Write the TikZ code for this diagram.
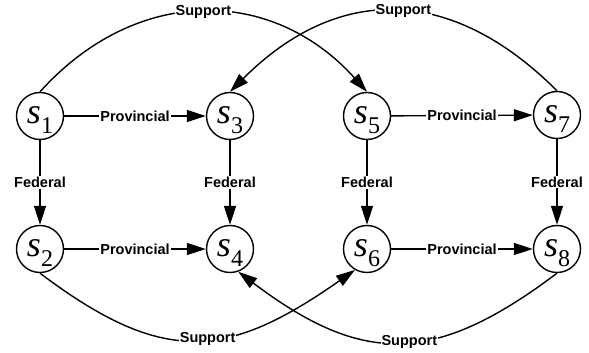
\documentclass[tikz,border=0pt]{standalone}
\usepackage{fontspec}
\setmainfont{Liberation Sans}
\newfontface\stateit{Liberation Serif Italic}
\newfontface\stateup{Liberation Serif}
\usetikzlibrary{arrows.meta}

\newcommand{\stlabel}[1]{{\fontsize{36pt}{36pt}\stateit s\raisebox{-10pt}{\fontsize{24pt}{24pt}\stateup #1}}}

\begin{document}
\begin{tikzpicture}[x=1pt,y=1pt,
		stnode/.style={draw,circle,line width=1.4pt,minimum size=47pt,inner sep=0pt,text height=26pt,text depth=10pt},
		arr/.style={-{Triangle[length=19pt,width=12pt]},line width=1.4pt},
		lbl/.style={fill=white,inner sep=1pt,font=\fontsize{14.5pt}{15pt}\selectfont\bfseries}]
	\useasboundingbox (0,0) rectangle (589,353);
	
	\node[stnode] (s1) at (40,237) {\stlabel{1}};
	\node[stnode] (s3) at (230,237) {\stlabel{3}};
	\node[stnode] (s5) at (367,237) {\stlabel{5}};
	\node[stnode] (s7) at (557,238) {\stlabel{7}};
	\node[stnode] (s2) at (40,104) {\stlabel{2}};
	\node[stnode] (s4) at (230,104) {\stlabel{4}};
	\node[stnode] (s6) at (367,104) {\stlabel{6}};
	\node[stnode] (s8) at (557,104) {\stlabel{8}};
	
	% provincial
	\draw[arr] (s1) -- node[lbl]{Provincial} (s3);
	\draw[arr] (s5) -- node[lbl]{Provincial} (s7);
	\draw[arr] (s2) -- node[lbl]{Provincial} (s4);
	\draw[arr] (s6) -- node[lbl]{Provincial} (s8);
	
	% federal
	\draw[arr] (s1) -- node[lbl]{Federal} (s2);
	\draw[arr] (s3) -- node[lbl]{Federal} (s4);
	\draw[arr] (s5) -- node[lbl]{Federal} (s6);
	\draw[arr] (s7) -- node[lbl]{Federal} (s8);
	
	% support
	\draw[arr] (s1.north) to[out=48,in=132,looseness=1.12] node[lbl]{Support} (s5.north);
	\draw[arr] (s7.north) to[out=135,in=45,looseness=1.18] node[lbl,pos=0.47]{Support} (s3.north);
	\draw[arr] (s2.south) to[out=-37,in=215,looseness=1.26] node[lbl,pos=0.54]{Support} (s6.-120);
	\draw[arr] (s8.south) to[out=217,in=-37,looseness=1.24] node[lbl,pos=0.46]{Support} (s4.-70);
\end{tikzpicture}
\end{document}
